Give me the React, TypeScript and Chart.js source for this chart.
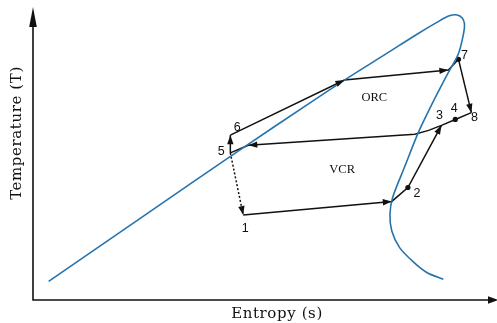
import { useEffect, useRef } from 'react';
import { Chart, registerables } from 'chart.js';

Chart.register(...registerables);

const WIDTH = 497;
const HEIGHT = 323;

// Saturation dome of the working fluid (entropy s, temperature T)
const domeS = [0.34, 2.52, 4.46, 6.03, 6.77, 7.69, 8.34, 8.77, 9.05, 9.22, 9.33, 9.38, 9.36, 9.25, 8.99, 8.69, 8.38, 8.08, 7.82, 7.76, 7.8, 7.97, 8.28, 8.56, 8.92];
const domeT = [6.3, 29.6, 50.3, 66.7, 74.3, 83.3, 89.7, 93.7, 96.0, 96.3, 95.3, 93.3, 90.0, 83.3, 75.7, 66.7, 56.7, 45.0, 34.7, 29.0, 23.3, 17.7, 12.7, 9.3, 7.0];

// Numbered state points 1..8
const stateNames = ['1', '2', '3', '4', '5', '6', '7', '8'];
const stateS = [4.57, 8.15, 8.88, 9.18, 4.29, 4.29, 9.25, 9.53];
const stateT = [28.7, 38.0, 59.0, 61.0, 49.7, 55.7, 81.3, 63.3];

// Where the process lines meet the dome: VCR vapour, condensate, ORC liquid, ORC vapour
const crossS = [7.8, 4.68, 6.77, 9.03];
const crossT = [33.3, 52.3, 74.3, 77.7];

// Bend of the shared condenser line between state 3 and the liquid line
const bendS = [8.6, 8.3];
const bendT = [57.3, 56.0];

// Cycle names and where they sit
const cycleNames = ['ORC', 'VCR'];
const cycleS = [7.42, 6.72];
const cycleT = [68.3, 44.0];

// States marked with a dot
const dotStates = [2, 4, 7];

type Pt = { x: number; y: number };

const st = (i: number): Pt => ({ x: stateS[i - 1], y: stateT[i - 1] });
const cr = (i: number): Pt => ({ x: crossS[i], y: crossT[i] });
const bd = (i: number): Pt => ({ x: bendS[i], y: bendT[i] });

const INK = '#111111';
const DOME = '#2573ad';

export default function App() {
  const canvasRef = useRef<HTMLCanvasElement | null>(null);

  useEffect(() => {
    const canvas = canvasRef.current;
    if (!canvas) return;

    const dome: Pt[] = domeS.map((s, i) => ({ x: s, y: domeT[i] }));

    const paths: { pts: Pt[]; dashed?: boolean }[] = [
      { pts: [st(1), cr(0), st(2), st(3)] },
      { pts: [st(8), st(4), st(3), bd(0), bd(1), cr(1), st(5)] },
      { pts: [st(5), st(6)] },
      { pts: [st(6), cr(2), cr(3), st(7)] },
      { pts: [st(7), st(8)] },
      { pts: [st(5), st(1)], dashed: true },
    ];

    // Arrow heads: [from, to], drawn at "to"
    const arrows: [Pt, Pt][] = [
      [st(1), cr(0)],
      [st(2), st(3)],
      [bd(1), cr(1)],
      [st(5), st(6)],
      [st(6), cr(2)],
      [cr(2), cr(3)],
      [st(7), st(8)],
      [st(5), st(1)],
    ];

    // Label offsets in pixels from each state point
    const labelOffset: [number, number][] = [
      [2, 13], [9, 6], [-2, -10], [-1, -11], [-9, -1], [7, -8], [6, -4], [3, 5],
    ];

    const overlay = {
      id: 'tsOverlay',
      afterDatasetsDraw(chart: Chart) {
        const ctx = chart.ctx;
        const xs = chart.scales.x;
        const ys = chart.scales.y;
        const area = chart.chartArea;
        const P = (p: Pt) => [xs.getPixelForValue(p.x), ys.getPixelForValue(p.y)];

        ctx.save();
        // arrow heads
        ctx.fillStyle = INK;
        for (const [a, b] of arrows) {
          const [x0, y0] = P(a);
          const [x1, y1] = P(b);
          const ang = Math.atan2(y1 - y0, x1 - x0);
          const len = 9;
          const hw = 3.2;
          ctx.beginPath();
          ctx.moveTo(x1, y1);
          ctx.lineTo(x1 - len * Math.cos(ang) + hw * Math.sin(ang), y1 - len * Math.sin(ang) - hw * Math.cos(ang));
          ctx.lineTo(x1 - len * Math.cos(ang) - hw * Math.sin(ang), y1 - len * Math.sin(ang) + hw * Math.cos(ang));
          ctx.closePath();
          ctx.fill();
        }

        // state numbers
        ctx.font = '12.5px "Liberation Sans", Arial, sans-serif';
        ctx.textAlign = 'center';
        ctx.textBaseline = 'middle';
        stateNames.forEach((n, i) => {
          const [x, y] = P(st(i + 1));
          ctx.fillText(n, x + labelOffset[i][0], y + labelOffset[i][1]);
        });

        // cycle names
        ctx.font = '12.5px "Liberation Serif", "Times New Roman", serif';
        cycleNames.forEach((n, i) => {
          const [x, y] = P({ x: cycleS[i], y: cycleT[i] });
          ctx.fillText(n, x, y);
        });

        // axes with arrow heads
        const ox = area.left;
        const oy = area.bottom;
        ctx.strokeStyle = INK;
        ctx.lineWidth = 1.6;
        ctx.beginPath();
        ctx.moveTo(ox, 12);
        ctx.lineTo(ox, oy);
        ctx.lineTo(WIDTH - 6, oy);
        ctx.stroke();
        ctx.beginPath();
        ctx.moveTo(ox, 7);
        ctx.lineTo(ox - 3.8, 27);
        ctx.lineTo(ox + 3.8, 27);
        ctx.closePath();
        ctx.fill();
        ctx.beginPath();
        ctx.moveTo(WIDTH + 1, oy);
        ctx.lineTo(WIDTH - 9, oy - 3.8);
        ctx.lineTo(WIDTH - 9, oy + 3.8);
        ctx.closePath();
        ctx.fill();

        // axis titles
        ctx.font = '15px "DejaVu Serif", serif';
        (ctx as any).letterSpacing = '0.6px';
        ctx.fillText('Entropy (s)', 277, 314);
        ctx.translate(17, 133);
        ctx.rotate(-Math.PI / 2);
        ctx.fillText('Temperature (T)', 0, 0);
        ctx.restore();
      },
    };

    const chart = new Chart(canvas, {
      type: 'scatter',
      data: {
        datasets: [
          {
            data: dome,
            showLine: true,
            borderColor: DOME,
            borderWidth: 1.6,
            pointRadius: 0,
            tension: 0.3,
          },
          ...paths.map((p) => ({
            data: p.pts,
            showLine: true,
            borderColor: INK,
            borderWidth: 1.5,
            borderDash: p.dashed ? [2, 2] : [],
            pointRadius: 0,
            tension: 0,
          })),
          {
            data: dotStates.map((i) => st(i)),
            showLine: false,
            pointRadius: 2.6,
            pointBackgroundColor: INK,
            pointBorderWidth: 0,
          },
        ],
      },
      options: {
        animation: false,
        responsive: false,
        maintainAspectRatio: false,
        layout: { padding: { left: 33, right: 0, top: 0, bottom: 23 } },
        plugins: { legend: { display: false }, tooltip: { enabled: false } },
        scales: {
          x: { type: 'linear', min: 0, max: 10, display: false },
          y: { type: 'linear', min: 0, max: 100, display: false },
        },
      },
      plugins: [overlay],
    });

    return () => chart.destroy();
  }, []);

  return (
    <div style={{ position: 'fixed', left: 0, top: 0, width: WIDTH, height: HEIGHT, background: '#fff' }}>
      <canvas ref={canvasRef} width={WIDTH} height={HEIGHT} style={{ width: WIDTH, height: HEIGHT }} />
    </div>
  );
}
